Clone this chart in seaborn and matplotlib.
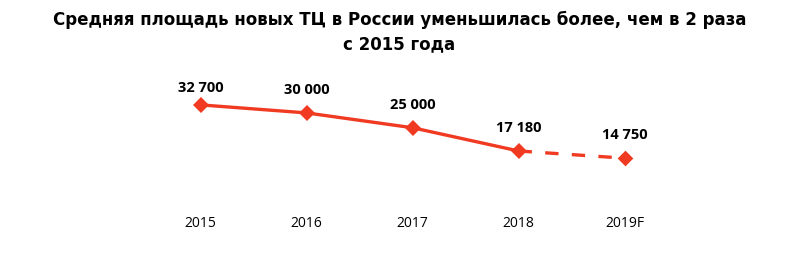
import matplotlib
matplotlib.use("Agg")
import matplotlib.pyplot as plt
import seaborn as sns
import pandas as pd

years = ["2015", "2016", "2017", "2018", "2019F"]
values = [32700, 30000, 25000, 17180, 14750]
value_labels = ["32 700", "30 000", "25 000", "17 180", "14 750"]
title = "Средняя площадь новых ТЦ в России уменьшилась более, чем в 2 раза\nс 2015 года"

color = "#F03A22"

sns.set_theme(style="white")
plt.rcParams['font.family'] = ['DejaVu Sans']

fig = plt.figure(figsize=(7.86, 2.63), dpi=100)
ax = fig.add_axes([0.188, 0.232, 0.674, 0.508])

df = pd.DataFrame({"x": range(len(years)), "v": values})
actual = df.iloc[:4]
forecast = df.iloc[3:]

sns.lineplot(data=actual, x="x", y="v", ax=ax, color=color, linewidth=2.4,
             marker="D", markersize=8, markeredgewidth=0)
sns.lineplot(data=forecast, x="x", y="v", ax=ax, color=color, linewidth=2.4,
             linestyle=(0, (4, 4)))
sns.scatterplot(x=[4], y=[values[4]], ax=ax, color=color, marker="D", s=64,
                linewidth=0, zorder=5)

offsets = [17, 23, 23, 23, 23]
for i, (v, lab) in enumerate(zip(values, value_labels)):
    ax.annotate(lab, (i, v), xytext=(0, offsets[i] * 0.72), textcoords="offset points",
                ha="center", va="center", fontsize=10.5, fontweight="bold",
                family="Open Sans", color="black")

ax.set_xlim(-0.5, 4.5)
ax.set_ylim(0, 45000)
ax.set_xticks(range(len(years)))
ax.set_xticklabels(years, family="Open Sans", fontsize=10, color="black")
ax.tick_params(axis="x", length=0, pad=10)
ax.set_yticks([])
ax.set_xlabel("")
ax.set_ylabel("")
for s in ax.spines.values():
    s.set_visible(False)

fig.text(0.508, 0.878, title, ha="center", va="center", fontsize=12,
         fontweight="bold", linespacing=1.4, color="black", family="DejaVu Sans")

fig.savefig("out.png", dpi=100)
